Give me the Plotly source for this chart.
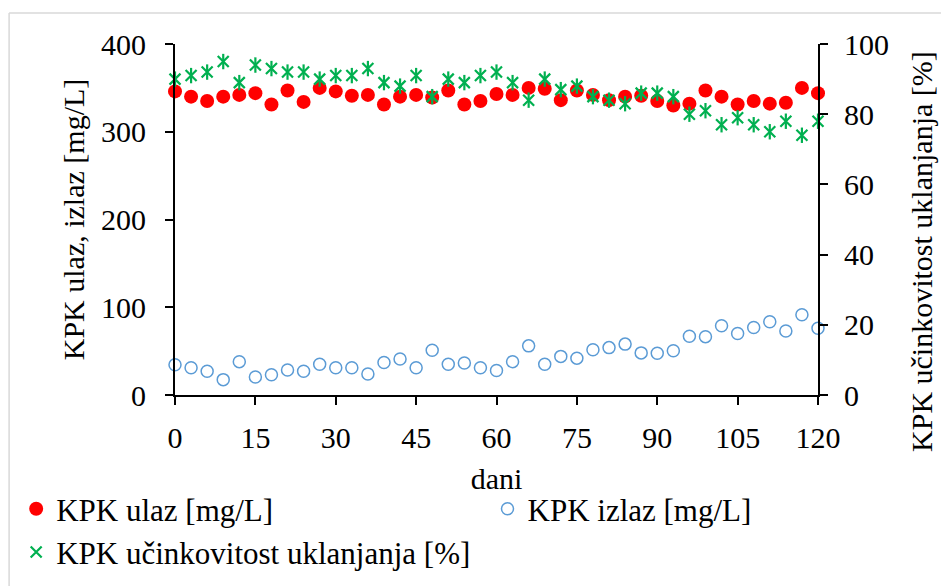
import plotly.graph_objects as go

# days of measurement
dani = list(range(0, 121, 3))

kpk_ulaz = [346, 340, 335, 340, 342, 344, 331, 347, 334, 350, 346, 341, 342, 331,
            340, 342, 339, 347, 331, 335, 343, 342, 350, 349, 336, 347, 342,
            336, 340, 341, 335, 330, 332, 347, 340, 331, 335, 332, 333, 350, 344]

kpk_izlaz = [34.5, 31, 27, 17.5, 38, 20.5, 23, 28.5, 27, 35, 31, 31, 24, 37,
             41, 31, 51, 35, 36.5, 31, 28, 38, 56, 35, 44, 42, 51.5,
             54, 58, 48, 47.5, 50.5, 67, 66.5, 79, 70, 77, 83.5, 73, 91.5, 76]

kpk_ucinkovitost = [90, 91, 92, 95, 89, 94, 93, 92, 92, 90, 91, 91, 93, 89,
                    88, 91, 85, 90, 89, 91, 92, 89, 84, 90, 87, 88, 85,
                    84, 83, 86, 86, 85, 80, 81, 77, 79, 77, 75, 78, 74, 78]

FONT = "Times New Roman, Liberation Serif, serif"
GREEN = "#00B050"

fig = go.Figure()

fig.add_trace(go.Scatter(x=dani, y=kpk_ulaz, mode='markers', name='KPK ulaz [mg/L]',
                         marker=dict(color='#FF0000', size=14, symbol='circle'),
                         cliponaxis=False, legend='legend'))
fig.add_trace(go.Scatter(x=dani, y=kpk_izlaz, mode='markers', name='KPK izlaz [mg/L]',
                         marker=dict(color='#5B9BD5', size=12, symbol='circle-open',
                                     line=dict(width=1.5, color='#5B9BD5')),
                         cliponaxis=False, legend='legend2'))
fig.add_trace(go.Scatter(x=dani, y=kpk_ucinkovitost, mode='markers', yaxis='y2',
                         name='KPK učinkovitost uklanjanja [%]',
                         marker=dict(color=GREEN, size=11, symbol='x-thin-open',
                                     line=dict(width=2.2, color=GREEN)),
                         cliponaxis=False, legend='legend'))
# vertical stroke so the x becomes a star, like the original marker
fig.add_trace(go.Scatter(x=dani, y=kpk_ucinkovitost, mode='markers', yaxis='y2',
                         showlegend=False, hoverinfo='skip',
                         marker=dict(color=GREEN, size=11, symbol='line-ns-open',
                                     line=dict(width=2.2, color=GREEN)),
                         cliponaxis=False))

axis_common = dict(showline=True, linecolor='black', linewidth=2, ticks='outside',
                   ticklen=8, tickwidth=2, tickcolor='black', showgrid=False,
                   zeroline=False, automargin=False,
                   tickfont=dict(family=FONT, size=30, color='black'))

legend_common = dict(orientation='v', xanchor='left', yanchor='top', tracegroupgap=4,
                     font=dict(family=FONT, size=31, color='black'),
                     bgcolor='rgba(0,0,0,0)')

fig.update_layout(
    width=949, height=586,
    margin=dict(l=167, r=139, t=36, b=199, autoexpand=False),
    paper_bgcolor='white', plot_bgcolor='white',
    font=dict(family=FONT, size=30, color='black'),
    xaxis=dict(range=[0, 120], dtick=15, tick0=0, ticklabelstandoff=7,
               title=dict(text='dani', standoff=15, font=dict(family=FONT, size=30)),
               **axis_common),
    yaxis=dict(range=[0, 400], dtick=100, ticklabelstandoff=13,
               title=dict(text='KPK ulaz, izlaz [mg/L]', standoff=8,
                          font=dict(family=FONT, size=30)),
               **axis_common),
    yaxis2=dict(range=[0, 100], dtick=20, overlaying='y', side='right',
                ticklabelstandoff=10, **axis_common),
    legend=dict(x=-0.247, y=-0.248, **legend_common),
    legend2=dict(x=0.486, y=-0.248, **legend_common),
    showlegend=True,
    annotations=[
        dict(text='KPK učinkovitost uklanjanja [%]', xref='paper', yref='paper',
             x=1.16, y=0.41, xanchor='center', yanchor='middle', textangle=-90,
             showarrow=False, font=dict(family=FONT, size=30, color='black')),
    ],
    shapes=[
        dict(type='line', xref='paper', yref='paper', x0=-0.258, x1=1.3, y0=1.088, y1=1.088,
             line=dict(color='#D9D9D9', width=1.5)),
        dict(type='line', xref='paper', yref='paper', x0=-0.258, x1=-0.258, y0=1.088, y1=-0.7,
             line=dict(color='#D9D9D9', width=1.5)),
    ],
)

fig.write_html("out.html")
